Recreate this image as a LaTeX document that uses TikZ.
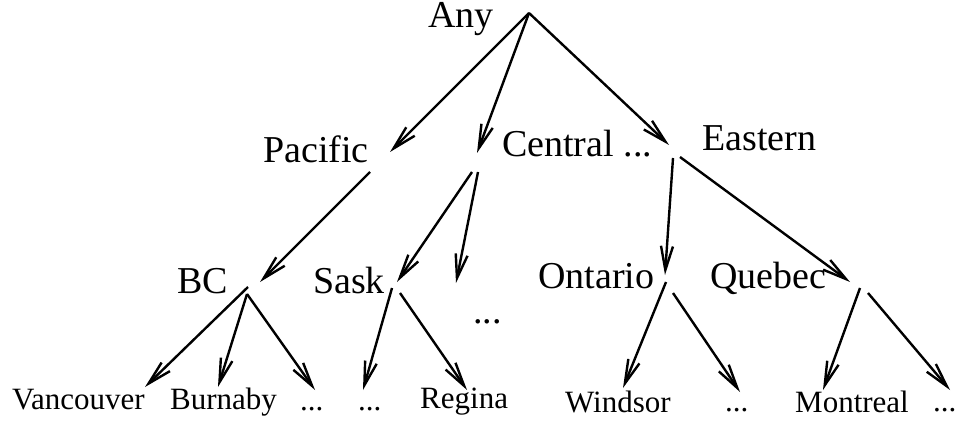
\documentclass[tikz,border=0pt]{standalone}
\usepackage{fontspec}
\setmainfont{Liberation Serif}
\usetikzlibrary{arrows.meta}
\newcommand{\bigtxt}{\fontsize{38}{40}\selectfont}
\newcommand{\leaftxt}{\fontsize{31}{33}\selectfont}

\begin{document}
\begin{tikzpicture}[x=1pt,y=-1pt]
 \tikzset{arrow/.style={line width=2.4pt,-{Straight Barb[length=24pt,width=12pt]}},
   lvl/.style={inner sep=0pt,anchor=base west,font=\bigtxt},
   leaf/.style={inner sep=0pt,anchor=base west,font=\leaftxt}}
 \useasboundingbox (0,0) rectangle (965,422);

 \node[lvl] (any) at (428,28) {Any};
 \node[lvl] (pac) at (263,162) {Pacific};
 \node[lvl] (cen) at (502,157) {Central ...};
 \node[lvl] (eas) at (702,151) {Eastern};
 \node[lvl] (bc) at (177,293) {BC};
 \node[lvl] (sask) at (313,293) {Sask};
 \node[lvl] (cdots) at (473,323) {...};
 \node[lvl] (ont) at (538,288) {Ontario};
 \node[lvl] (que) at (710,288) {Quebec};
 \node[leaf] (van) at (12,409) {Vancouver};
 \node[leaf] (bur) at (170,409) {Burnaby};
 \node[leaf] (bcdots) at (300,410) {...};
 \node[leaf] (skdots) at (358,410) {...};
 \node[leaf] (reg) at (420,408) {Regina};
 \node[leaf] (win) at (565,412) {Windsor};
 \node[leaf] (ondots) at (725,411) {...};
 \node[leaf] (mon) at (795,412) {Montreal};
 \node[leaf] (qcdots) at (933,411) {...};

 \coordinate (any-o) at (529,13);
 \coordinate (pac-i) at (390,152);
 \coordinate (cen-i) at (477,153);
 \coordinate (eas-i) at (669,145);
 \coordinate (pac-o) at (370,172);
 \coordinate (cen-o1) at (472,172);
 \coordinate (cen-o2) at (478,172);
 \coordinate (eas-o1) at (673,158);
 \coordinate (eas-o2) at (680,157);
 \coordinate (bc-i) at (260,282);
 \coordinate (sask-i) at (397,282);
 \coordinate (cdots-i) at (456,283);
 \coordinate (ont-i) at (665,275);
 \coordinate (que-i) at (850,282);
 \coordinate (bc-o1) at (248,287);
 \coordinate (bc-o2) at (247,294);
 \coordinate (sask-o1) at (392,288);
 \coordinate (sask-o2) at (400,293);
 \coordinate (ont-o1) at (666,282);
 \coordinate (ont-o2) at (673,293);
 \coordinate (que-o1) at (860,288);
 \coordinate (que-o2) at (868,293);
 \coordinate (van-i) at (145,387);
 \coordinate (bur-i) at (218,387);
 \coordinate (bcdots-i) at (315,390);
 \coordinate (skdots-i) at (363,390);
 \coordinate (reg-i) at (467,390);
 \coordinate (win-i) at (623,388);
 \coordinate (ondots-i) at (740,392);
 \coordinate (mon-i) at (823,390);
 \coordinate (qcdots-i) at (950,390);

 \draw[arrow] (any-o) -- (pac-i);
 \draw[arrow] (any-o) -- (cen-i);
 \draw[arrow] (any-o) -- (eas-i);
 \draw[arrow] (pac-o) -- (bc-i);
 \draw[arrow] (cen-o1) -- (sask-i);
 \draw[arrow] (cen-o2) -- (cdots-i);
 \draw[arrow] (eas-o1) -- (ont-i);
 \draw[arrow] (eas-o2) -- (que-i);
 \draw[arrow] (bc-o1) -- (van-i);
 \draw[arrow] (bc-o2) -- (bur-i);
 \draw[arrow] (bc-o2) -- (bcdots-i);
 \draw[arrow] (sask-o1) -- (skdots-i);
 \draw[arrow] (sask-o2) -- (reg-i);
 \draw[arrow] (ont-o1) -- (win-i);
 \draw[arrow] (ont-o2) -- (ondots-i);
 \draw[arrow] (que-o1) -- (mon-i);
 \draw[arrow] (que-o2) -- (qcdots-i);
\end{tikzpicture}
\end{document}
